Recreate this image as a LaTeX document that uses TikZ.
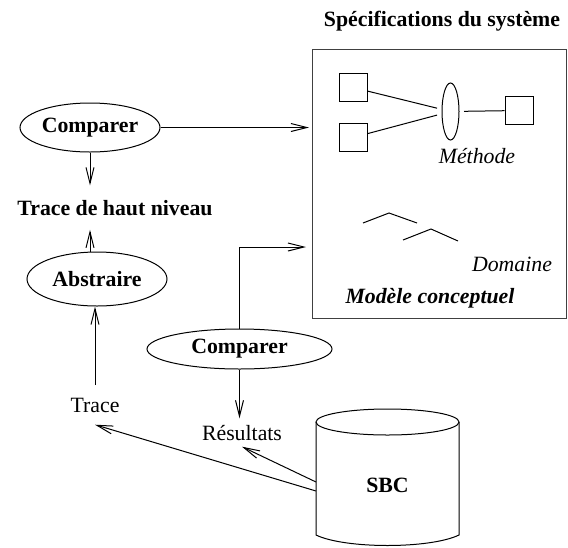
\documentclass[tikz,border=0pt]{standalone}
\usepackage{fontspec}
\setmainfont{Liberation Serif}
\usetikzlibrary{arrows.meta,shapes.geometric}

\begin{document}
\fontsize{10.9pt}{13pt}\selectfont
\begin{tikzpicture}[x=0.5pt, y=-0.5pt, line width=0.5pt,
	>={Straight Barb[length=8pt, width=4pt]},
	proc/.style={ellipse, draw, inner sep=0pt, font=\bfseries},
	lbl/.style={anchor=base},
	carre/.style={draw, minimum size=14pt, inner sep=0pt}]
	\useasboundingbox (0, 0) rectangle (568, 547);

	\coordinate (I1) at (309, 127.5);
	\coordinate (I2) at (306, 247);
	\coordinate (S1) at (316, 482);
	\coordinate (S2) at (316, 491);

	\node[lbl, font=\bfseries] (titre) at (442, 26) {Spécifications du système};
	\draw[black!75] (312, 49) rectangle (566, 318);

	\node[carre] (E1) at (353, 87.5) {};
	\node[carre] (E2) at (353, 137.5) {};
	\node[carre] (E3) at (519, 110.5) {};
	\node[ellipse, draw, inner sep=0pt, minimum width=8.5pt, minimum height=28.5pt, outer sep=2.5pt] (M) at (450.5, 111.5) {};
	\draw (E1) -- (M);
	\draw (E2) -- (M);
	\draw (M) -- (E3);
	\node[lbl, font=\itshape] (meth) at (477, 163) {Méthode};

	\draw (363, 223) -- (389, 213) -- (417, 223);
	\draw (403, 240) -- (431, 229) -- (458, 241);
	\node[lbl, font=\itshape] (dom) at (512, 271) {Domaine};
	\node[lbl, font=\bfseries\itshape] (mc) at (430, 303) {Modèle conceptuel};

	\node[proc, minimum width=70pt, minimum height=24.5pt] (CA) at (90, 127.5) {Comparer};
	\node[lbl, font=\bfseries, inner sep=7pt] (THN) at (115, 215) {Trace de haut niveau};
	\node[proc, minimum width=70pt, minimum height=27pt] (A) at (97, 279) {Abstraire};
	\node[lbl, inner sep=6pt] (Tr) at (95, 412) {Trace};
	\node[proc, minimum width=92.5pt, minimum height=20pt] (CB) at (239.5, 349) {Comparer};
	\node[lbl, inner sep=3pt] (R) at (242, 440) {Résultats};

	\draw (316, 422) -- (316, 535) .. controls (345, 549) and (430, 549) .. (459, 535) -- (459, 422);
	\draw (387.5, 422) ellipse [x radius=35.75pt, y radius=6.5pt];
	\node[lbl, font=\bfseries] (SBC) at (387.5, 492) {SBC};

	\draw[->] (CA) -- (I1);
	\draw[->] (CA.south) -- (CA.south |- THN.north);
	\draw[->] (CA.south |- A.north) -- (CA.south |- THN.south);
	\draw[->] (Tr.north) -- (Tr.north |- A.south);
	\draw[->] (CB.north) |- (I2);
	\draw[->] (CB.south) -- (CB.south |- R.north);
	\draw[->] (S2) -- (Tr.south);
	\draw[->] (S1) -- (R.south);
\end{tikzpicture}
\end{document}
